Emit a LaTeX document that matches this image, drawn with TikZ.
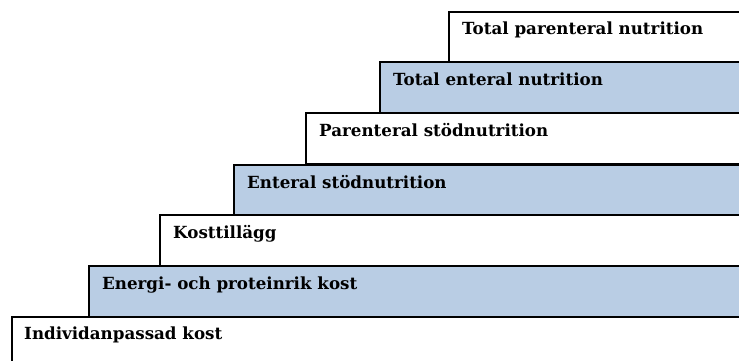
\documentclass[tikz,border=0pt]{standalone}
\usepackage{fontspec}
\setmainfont{DejaVu Serif}
\definecolor{stepblue}{RGB}{185,205,228}
\begin{document}
\begin{tikzpicture}[x=1pt,y=-1pt,
  stepbox/.style={draw=black, line width=1.4pt, anchor=north west, inner sep=0pt, outer sep=0pt, minimum width=800pt, minimum height=51pt},
  white step/.style={stepbox, fill=white},
  blue step/.style={stepbox, fill=stepblue},
  lbl/.style={anchor=base west, inner sep=0pt, font=\fontsize{16.7}{19}\selectfont\bfseries}]
\useasboundingbox (0,0) rectangle (739,361);
\clip (0,0) rectangle (739,361);
\node[white step] (b1) at (449,12) {};
\node[blue step]  (b2) at (380,62) {};
\node[white step] (b3) at (306,113) {};
\node[blue step]  (b4) at (234,165) {};
\node[white step] (b5) at (160,215) {};
\node[blue step]  (b6) at (89,266) {};
\node[white step] (b7) at (12,317) {};
\node[lbl] (t1) at (462,35) {Total parenteral nutrition};
\node[lbl] (t2) at (393,85) {Total enteral nutrition};
\node[lbl] (t3) at (319,136) {Parenteral stödnutrition};
\node[lbl] (t4) at (247,188) {Enteral stödnutrition};
\node[lbl] (t5) at (173,238) {Kosttillägg};
\node[lbl] (t6) at (102,289) {Energi- och proteinrik kost};
\node[lbl] (t7) at (24,339) {Individanpassad kost};
\end{tikzpicture}
\end{document}
